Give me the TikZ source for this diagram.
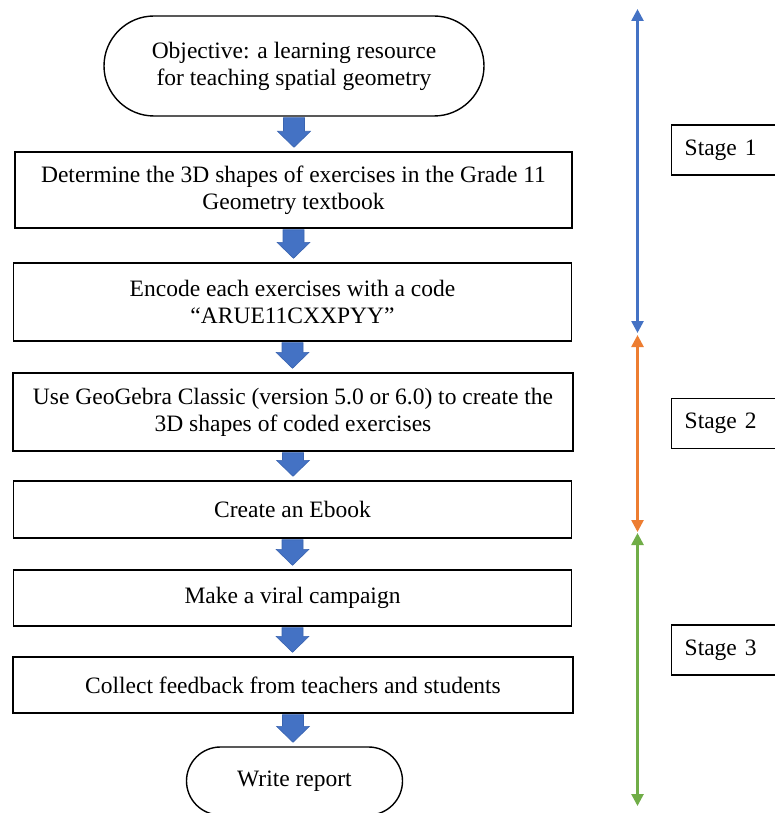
\documentclass[tikz,border=0pt]{standalone}
\usepackage{fontspec}
\setmainfont{Liberation Serif}
\usetikzlibrary{shapes.misc,arrows.meta,calc}
\definecolor{offblue}{HTML}{4472C4}
\definecolor{offblueedge}{HTML}{3A64B0}
\definecolor{offorange}{HTML}{ED7D31}
\definecolor{offgreen}{HTML}{70AD47}
\newcommand\blockarr[2]{%
  \filldraw[blockfill] let \p1=(#1.south), \p2=(#2.north) in
    (\x1-10.5pt,\y1-1pt) -- (\x1+10.5pt,\y1-1pt) -- (\x1+10.5pt,\y2+20pt) --
    (\x1+16.5pt,\y2+20pt) -- (\x1,\y2+4pt) -- (\x1-16.5pt,\y2+20pt) --
    (\x1-10.5pt,\y2+20pt) -- cycle;}
\begin{document}
\begin{tikzpicture}[x=1pt,y=-1pt,
  every node/.style={font=\fontsize{23.5}{27}\selectfont},
  stepbox/.style={draw=black,line width=1.4pt,rectangle,align=center,inner sep=0pt},
  terminal/.style={draw=black,line width=1.4pt,rounded rectangle,align=center,inner sep=0pt},
  stagebox/.style={draw=black,line width=1.4pt,rectangle,align=left,anchor=west,
    text width=100pt,inner xsep=13pt,minimum height=50pt},
  blockfill/.style={fill=offblue,draw=offblueedge,line width=0.6pt},
  stagearrow/.style={line width=2.6pt,{Triangle[width=12pt,length=12pt]}-{Triangle[width=12pt,length=12pt]}}]
\useasboundingbox (0,0) rectangle (774,813);
\fill[white] (0,0) rectangle (774,813);

\node[terminal,minimum width=380pt,minimum height=100pt] (obj) at (294,66)
  {Objective: a learning resource\\for teaching spatial geometry};
\node[stepbox,minimum width=557pt,minimum height=76pt] (b1) at (293.5,190)
  {Determine the 3D shapes of exercises in the Grade 11\\Geometry textbook};
\node[stepbox,minimum width=558pt,minimum height=78pt] (b2) at (292.5,302)
  {Encode each exercises with a code\\“ARUE11CXXPYY”};
\node[stepbox,minimum width=560pt,minimum height=78pt] (b3) at (293,412)
  {Use GeoGebra Classic (version 5.0 or 6.0) to create the\\3D shapes of coded exercises};
\node[stepbox,minimum width=558pt,minimum height=57pt] (b4) at (292.5,509.5)
  {Create an Ebook};
\node[stepbox,minimum width=558pt,minimum height=56pt] (b5) at (292.5,598)
  {Make a viral campaign};
\node[stepbox,minimum width=560pt,minimum height=56pt] (b6) at (293,685)
  {Collect feedback from teachers and students};
\node[terminal,minimum width=216pt,minimum height=68pt] (rep) at (294.5,781)
  {Write report};

\blockarr{obj}{b1}
\blockarr{b1}{b2}
\blockarr{b2}{b3}
\blockarr{b3}{b4}
\blockarr{b4}{b5}
\blockarr{b5}{b6}
\blockarr{b6}{rep}

\coordinate (s1top) at (637.5,9);
\coordinate (s1bot) at (637.5,333);
\coordinate (s2top) at (637.5,335);
\coordinate (s2bot) at (637.5,532);
\coordinate (s3top) at (637.5,533);
\coordinate (s3bot) at (637.5,806);
\draw[stagearrow,draw=offblue,fill=offblue] (s1top) -- (s1bot);
\draw[stagearrow,draw=offorange,fill=offorange] (s2top) -- (s2bot);
\draw[stagearrow,draw=offgreen,fill=offgreen] (s3top) -- (s3bot);

\node[stagebox] (st1) at (671,150) {Stage 1};
\node[stagebox] (st2) at (671,423.5) {Stage 2};
\node[stagebox] (st3) at (671,650) {Stage 3};
\end{tikzpicture}
\end{document}
